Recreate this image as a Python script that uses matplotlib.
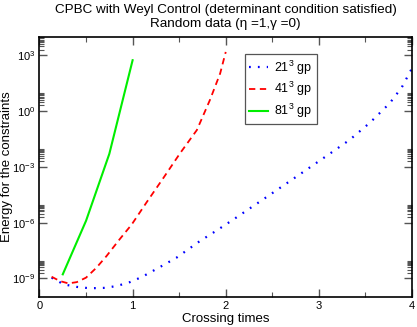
import matplotlib
matplotlib.use("Agg")
import matplotlib.pyplot as plt
from matplotlib.ticker import FixedLocator, MultipleLocator

plt.rcParams["font.family"] = ["Liberation Sans", "DejaVu Sans"]
plt.rcParams["mathtext.fontset"] = "custom"
plt.rcParams["mathtext.rm"] = "Liberation Sans"

# 21^3 grid points
t21 = [0.13, 0.26, 0.40, 0.54, 0.70, 0.83, 0.97, 1.10, 1.26, 1.47, 1.72,
       1.90, 2.08, 2.44, 2.80, 3.15, 3.33, 3.55, 3.76, 3.89, 4.00]
e21 = [1.10e-9, 4.8e-10, 3.5e-10, 2.95e-10, 3.1e-10, 3.9e-10, 6.3e-10,
       1.2e-9, 3.3e-9, 1.29e-8, 1.0e-7, 3.7e-7, 1.45e-6, 2.4e-5, 4.1e-4,
       6.6e-3, 2.8e-2, 0.24, 2.6, 18.6, 200]

# 41^3 grid points
t41 = [0.13, 0.22, 0.31, 0.40, 0.50, 0.61, 0.72, 0.86, 0.99, 1.15, 1.33,
       1.51, 1.69, 1.83, 1.94, 2.00]
e41 = [1.23e-9, 7.2e-10, 5.4e-10, 6.3e-10, 1.1e-9, 3.7e-9, 1.6e-8,
       1.26e-7, 7.9e-7, 1.23e-5, 2.5e-4, 5.4e-3, 9.5e-2, 3.9, 105, 1500]

# 81^3 grid points
t81 = [0.25, 0.50, 0.75, 1.00]
e81 = [1.66e-9, 1.26e-6, 5.0e-3, 540]

fig = plt.figure(figsize=(4.17, 3.27), dpi=100)
ax = fig.add_axes([0.0947, 0.0917, 0.8933, 0.7963])

ax.plot(t21, e21, color="#0000ff", lw=1.6, linestyle=(0, (0.8, 3.2)),
        label="21$^3$ gp")
ax.plot(t41, e41, color="#ff0000", lw=1.3, linestyle=(0, (3.5, 2.5)),
        label="41$^3$ gp")
ax.plot(t81, e81, color="#00ee00", lw=1.5, label="81$^3$ gp")

ax.set_yscale("log")
ax.set_xlim(0, 4)
ax.set_ylim(1e-10, 1e4)

# major ticks every 3 decades, minor ticks only in the decade above each
major = [1e-9, 1e-6, 1e-3, 1e0, 1e3]
ax.yaxis.set_major_locator(FixedLocator(major))
ax.set_yticklabels(["10$^{-9}$", "10$^{-6}$", "10$^{-3}$", "10$^{0}$",
                    "10$^{3}$"])
minor = [m * d for d in major for m in range(2, 10)]
ax.yaxis.set_minor_locator(FixedLocator(minor))
ax.xaxis.set_major_locator(MultipleLocator(1))
ax.xaxis.set_minor_locator(MultipleLocator(0.5))

ax.tick_params(which="both", direction="in", top=True, right=True,
               labelsize=8, color="#555555")
ax.tick_params(which="major", length=6, width=1.0, pad=3)
ax.tick_params(which="minor", length=3.5, width=0.8)
ax.tick_params(axis="y", which="minor", labelleft=False)
for s in ax.spines.values():
    s.set_linewidth(1.2)

ax.set_xlabel("Crossing times", fontsize=9.5, labelpad=1)
ax.set_ylabel("Energy for the constraints", fontsize=9.5)
ax.yaxis.set_label_coords(-0.072, 0.5)
ax.set_title("CPBC with Weyl Control (determinant condition satisfied)\n"
             "Random data (η =1,γ =0)", fontsize=9.7,
             linespacing=1.2, pad=7)

leg = ax.legend(loc="upper left", bbox_to_anchor=(0.552, 0.933),
                borderaxespad=0, fontsize=9, handlelength=1.5,
                handletextpad=0.5, borderpad=0.35, labelspacing=0.28,
                fancybox=False, framealpha=1, edgecolor="#555555")
leg.get_frame().set_linewidth(0.9)

fig.savefig("out.png", dpi=100)
